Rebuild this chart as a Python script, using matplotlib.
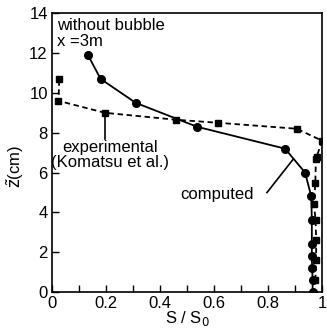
import matplotlib
matplotlib.use("Agg")
import matplotlib.pyplot as plt
from matplotlib.ticker import MultipleLocator

plt.rcParams['font.family'] = ['Liberation Sans', 'DejaVu Sans']

# computed (circles)
comp_s = [0.965, 0.965, 0.963, 0.962, 0.962, 0.962, 0.960, 0.937, 0.863, 0.537, 0.31, 0.18, 0.133]
comp_z = [0.0, 0.6, 1.2, 1.8, 2.4, 3.6, 4.8, 6.0, 7.2, 8.3, 9.5, 10.7, 11.9]

# experimental (squares), Komatsu et al.
exp_s = [0.975, 0.978, 0.978, 0.976, 0.97, 0.975, 0.977, 0.98, 1.0, 0.906, 0.614, 0.46, 0.196, 0.024, 0.027]
exp_z = [0.6, 1.6, 2.6, 3.6, 4.4, 5.5, 6.7, 6.8, 7.6, 8.2, 8.5, 8.65, 9.0, 9.6, 10.7]

FS = 12

fig = plt.figure(figsize=(3.27, 3.29), dpi=100)
ax = fig.add_axes([0.159, 0.112, 0.826, 0.848])

ax.plot(comp_s, comp_z, '-', color='black', lw=1.3, marker='o', ms=5.5)
ax.plot(exp_s, exp_z, '--', color='black', lw=1.3, marker='s', ms=5, dashes=(3, 2))

ax.set_xlim(0, 1)
ax.set_ylim(0, 14)
ax.xaxis.set_major_locator(MultipleLocator(0.2))
ax.xaxis.set_minor_locator(MultipleLocator(0.1))
ax.yaxis.set_major_locator(MultipleLocator(2))
ax.xaxis.set_major_formatter(plt.FuncFormatter(lambda v, p: '1' if abs(v-1) < 1e-9 else ('0' if abs(v) < 1e-9 else f'{v:.1f}')))
ax.tick_params(which='both', direction='in', length=5, width=1, labelsize=FS, top=False, right=False, pad=3)
for s in ax.spines.values():
    s.set_linewidth(1.2)

ax.set_xlabel('S / S$_0$', fontsize=FS, labelpad=-2)
ax.set_ylabel(r'$\tilde{\mathsf{z}}$(cm)', fontsize=FS, labelpad=2)
ax.yaxis.set_label_coords(-0.095, 0.45)

ax.text(0.02, 13.75, 'without bubble\nx =3m', fontsize=FS, va='top', ha='left', linespacing=1.05)
ax.text(0.215, 7.65, 'experimental\n(Komatsu et al.)', fontsize=FS, va='top', ha='center', linespacing=1.05)
ax.plot([0.196, 0.196], [8.9, 7.7], color='black', lw=1.2)
ax.text(0.61, 4.9, 'computed', fontsize=FS, va='center', ha='center')
ax.plot([0.796, 0.893], [5.0, 6.67], color='black', lw=1.2)

fig.savefig('out.png', dpi=100)
